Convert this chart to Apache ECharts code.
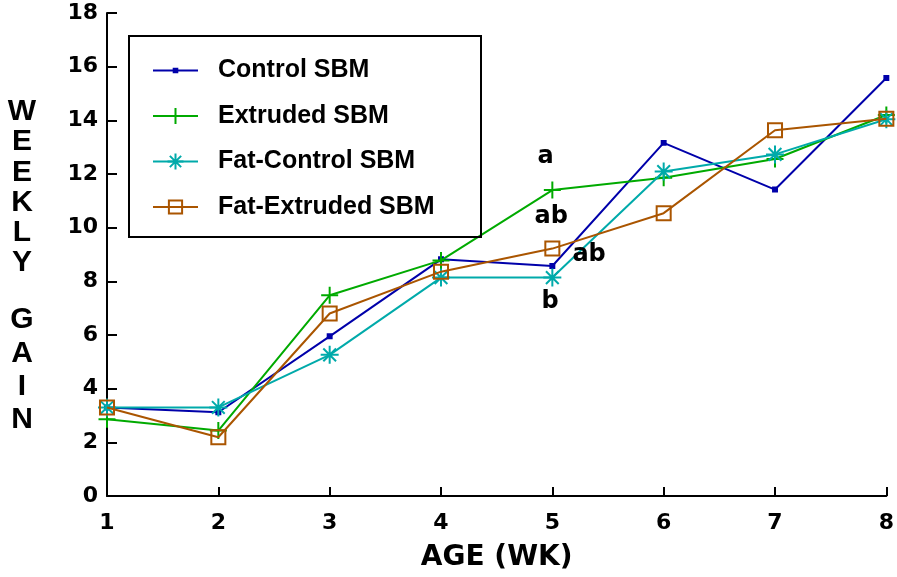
<!DOCTYPE html>
<html>
<head>
<meta charset="utf-8">
<script src="https://cdn.jsdelivr.net/npm/echarts@6/dist/echarts.min.js"></script>
<style>
html,body{margin:0;padding:0;background:#fff;}
#chart{width:897px;height:577px;}
</style>
</head>
<body>
<div id="chart"></div>
<script>
// ---- data ----
const weeks = [1, 2, 3, 4, 5, 6, 7, 8];
const seriesNames = ['Control SBM', 'Extruded SBM', 'Fat-Control SBM', 'Fat-Extruded SBM'];
const controlSBM     = [3.30, 3.12, 5.95, 8.82, 8.57, 13.16, 11.42, 15.58];
const extrudedSBM    = [2.86, 2.44, 7.48, 8.78, 11.40, 11.86, 12.56, 14.20];
const fatControlSBM  = [3.30, 3.30, 5.26, 8.14, 8.14, 12.09, 12.73, 14.04];
const fatExtrudedSBM = [3.30, 2.19, 6.80, 8.36, 9.22, 10.54, 13.63, 14.06];
const yTicks = [0, 2, 4, 6, 8, 10, 12, 14, 16, 18];
// significance letters at week 5
const annText = ['a', 'ab', 'ab', 'b'];
const annX = [4.94, 4.99, 5.33, 4.98];
const annY = [12.66, 10.39, 8.98, 7.24];

// ---- styles ----
const colors = ['#0000aa', '#00aa00', '#00aaaa', '#aa5500'];
const symCtrl = 'path://M0,0 L0.01,0 M20,20 L19.99,20 M6.5,6.5 L13.5,6.5 L13.5,13.5 L6.5,13.5 Z';
const symPlus = 'path://M0,10 L20,10 M10,0 L10,20';
const symStar = 'path://M0,10 L20,10 M10,0 L10,20 M2.93,2.93 L17.07,17.07 M2.93,17.07 L17.07,2.93';
const symBox  = 'path://M0,0 L0.01,0 M20,20 L19.99,20 M1.75,1.75 L18.25,1.75 L18.25,18.25 L1.75,18.25 Z';
const symbols = [symCtrl, symPlus, symStar, symBox];
const values = [controlSBM, extrudedSBM, fatControlSBM, fatExtrudedSBM];

const lineSeries = values.map((vals, i) => ({
  name: seriesNames[i],
  type: 'line',
  data: weeks.map((w, j) => [w, vals[j]]),
  symbol: symbols[i],
  symbolSize: i === 2 ? 18 : 17,
  showAllSymbol: true,
  lineStyle: { color: colors[i], width: 2 },
  itemStyle: i === 0
    ? { color: colors[i], borderWidth: 0 }
    : { color: 'rgba(0,0,0,0)', borderColor: colors[i], borderWidth: 2 },
  emphasis: { disabled: true },
  animation: false,
  z: 2 + i
}));

const annLabel = {
  show: true, position: 'inside', color: '#000', textBorderWidth: 0,
  fontFamily: 'DejaVu Sans', fontWeight: 'bold', fontSize: 24
};
const annSeries = {
  name: 'ann',
  type: 'scatter',
  symbolSize: 0,
  itemStyle: { opacity: 1 },
  data: annText.map((t, i) => ({ value: [annX[i], annY[i]], label: Object.assign({}, annLabel, { formatter: t }) })),
  label: annLabel,
  silent: true,
  animation: false,
  z: 10
};

const titleStyle = { fontFamily: 'Liberation Sans', fontWeight: 'bold', fontSize: 30, color: '#000' };

const chart = echarts.init(document.getElementById('chart'), null, { renderer: 'canvas' });
chart.setOption({
  backgroundColor: '#fff',
  animation: false,
  title: [
    { text: 'W\nE\nE\nK\nL\nY', left: 22, top: 96.5, padding: 0, textAlign: 'center',
      textStyle: Object.assign({ lineHeight: 30.3 }, titleStyle) },
    { text: 'G\nA\nI\nN', left: 22, top: 303.3, padding: 0, textAlign: 'center',
      textStyle: Object.assign({ lineHeight: 33.3 }, titleStyle) }
  ],
  grid: { left: 107, right: 8, top: 13, bottom: 80, containLabel: false },
  xAxis: {
    type: 'value', min: 1, max: 8, interval: 1,
    name: 'AGE (WK)', nameLocation: 'middle', nameGap: 48,
    nameTextStyle: { fontFamily: 'DejaVu Sans', fontWeight: 'bold', fontSize: 28, color: '#000' },
    axisLine: { lineStyle: { color: '#000', width: 2 } },
    axisTick: { inside: true, length: 9, lineStyle: { color: '#000', width: 2 } },
    axisLabel: { margin: 16, color: '#000', fontFamily: 'DejaVu Sans', fontWeight: 'bold', fontSize: 22 },
    splitLine: { show: false }
  },
  yAxis: {
    type: 'value', min: yTicks[0], max: yTicks[yTicks.length - 1], interval: yTicks[1] - yTicks[0],
    axisLine: { show: true, lineStyle: { color: '#000', width: 2 } },
    axisTick: { show: true, inside: true, length: 10, lineStyle: { color: '#000', width: 2 } },
    axisLabel: { margin: 9, color: '#000', fontFamily: 'DejaVu Sans', fontWeight: 'bold', fontSize: 22 },
    splitLine: { show: false }
  },
  legend: {
    orient: 'vertical', left: 152, top: 58,
    itemWidth: 45, itemHeight: 20, itemGap: 20.5, padding: 0,
    data: seriesNames.map((n, i) => ({ name: n, itemStyle: i === 0 ? { borderWidth: 0 } : { borderWidth: 2 } })),
    textStyle: { fontFamily: 'Liberation Sans', fontWeight: 'bold', fontSize: 25, color: '#000', padding: [0, 0, 0, 15] },
    selectedMode: false
  },
  graphic: [
    { type: 'rect', shape: { x: 129, y: 36, width: 352, height: 201 },
      style: { fill: 'none', stroke: '#000', lineWidth: 2 }, z: 100 }
  ],
  series: lineSeries.concat([annSeries])
});
</script>
</body>
</html>
